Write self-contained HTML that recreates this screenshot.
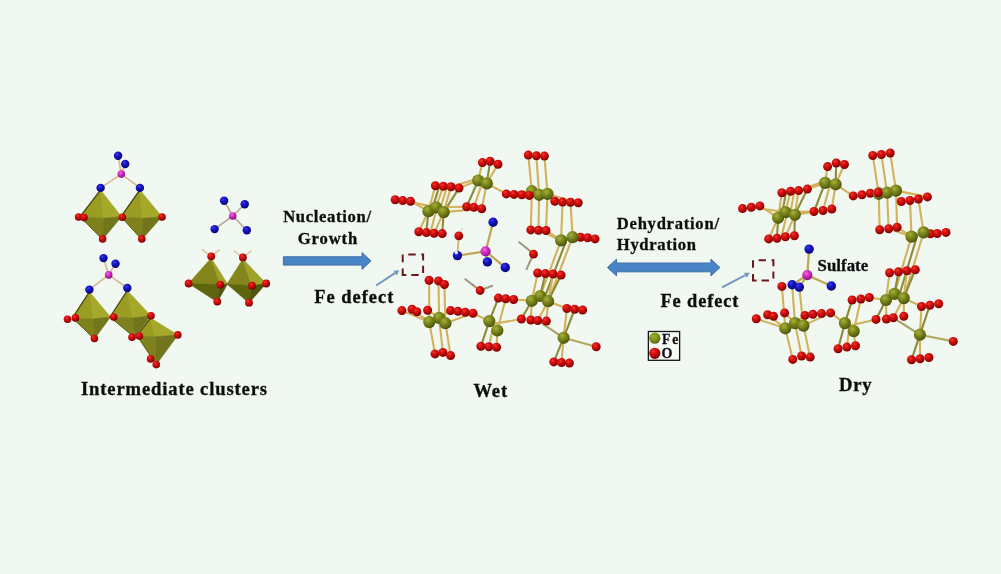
<!DOCTYPE html>
<html><head><meta charset="utf-8"><title>Fe oxyhydroxide sulfate scheme</title>
<style>
html,body{margin:0;padding:0;background:#f1f7f1;}
body{width:1001px;height:574px;overflow:hidden;}
svg{display:block;}
text{font-family:"Liberation Serif",serif;fill:#0e0e0e;stroke:#0e0e0e;stroke-width:0.32px;}
</style></head><body>
<svg width="1001" height="574" viewBox="0 0 1001 574">
<defs>
<radialGradient id="gr" cx="38%" cy="32%" r="70%"><stop offset="0" stop-color="#f5382c"/><stop offset="0.35" stop-color="#d6100e"/><stop offset="0.8" stop-color="#a00404"/><stop offset="1" stop-color="#6e0000"/></radialGradient>
<radialGradient id="gf" cx="38%" cy="32%" r="70%"><stop offset="0" stop-color="#a6b03a"/><stop offset="0.4" stop-color="#7f8a1f"/><stop offset="0.85" stop-color="#58620f"/><stop offset="1" stop-color="#3f490a"/></radialGradient>
<radialGradient id="gl" cx="40%" cy="35%" r="70%"><stop offset="0" stop-color="#9cb02c"/><stop offset="0.5" stop-color="#7e921c"/><stop offset="1" stop-color="#56600e"/></radialGradient>
<radialGradient id="gb" cx="38%" cy="32%" r="70%"><stop offset="0" stop-color="#3c3cec"/><stop offset="0.4" stop-color="#1515c4"/><stop offset="0.85" stop-color="#08088a"/><stop offset="1" stop-color="#02025a"/></radialGradient>
<radialGradient id="gm" cx="38%" cy="32%" r="70%"><stop offset="0" stop-color="#f468e6"/><stop offset="0.45" stop-color="#d02cc0"/><stop offset="0.9" stop-color="#9c1692"/><stop offset="1" stop-color="#740e70"/></radialGradient>
<filter id="soft" x="-2%" y="-2%" width="104%" height="104%"><feGaussianBlur stdDeviation="0.5"/></filter>
<filter id="soft2" x="-2%" y="-2%" width="104%" height="104%"><feGaussianBlur stdDeviation="0.3"/></filter>
</defs>
<rect width="1001" height="574" fill="#f1f7f1"/>
<g filter="url(#soft)">
<line x1="121.3" y1="174.1" x2="118.1" y2="155.7" stroke="#d6b98a" stroke-width="1.6" stroke-linecap="round"/>
<line x1="121.3" y1="174.1" x2="125.2" y2="164.0" stroke="#d6b98a" stroke-width="1.6" stroke-linecap="round"/>
<line x1="121.3" y1="174.1" x2="100.6" y2="187.9" stroke="#d6b98a" stroke-width="1.6" stroke-linecap="round"/>
<line x1="121.3" y1="174.1" x2="139.9" y2="187.9" stroke="#d6b98a" stroke-width="1.6" stroke-linecap="round"/>
<polygon points="100.6,190.0 80.1,216.7 103.6,218.2" fill="#9b9d22" stroke="#9b9d22" stroke-width="0.6" stroke-linejoin="round"/>
<polygon points="100.6,190.0 103.6,218.2 121.5,216.7" fill="#a6a82a" stroke="#a6a82a" stroke-width="0.6" stroke-linejoin="round"/>
<polygon points="80.1,216.7 102.6,239.5 103.6,218.2" fill="#7e811a" stroke="#7e811a" stroke-width="0.6" stroke-linejoin="round"/>
<polygon points="103.6,218.2 102.6,239.5 121.5,216.7" fill="#71751a" stroke="#71751a" stroke-width="0.6" stroke-linejoin="round"/>
<line x1="100.6" y1="190.0" x2="80.1" y2="216.7" stroke="#4a4e0c" stroke-width="1.3" stroke-linecap="round"/>
<line x1="80.1" y1="216.7" x2="102.6" y2="239.5" stroke="#5a5e10" stroke-width="1.0" stroke-linecap="round"/>
<polygon points="139.9,190.0 121.0,216.7 142.9,218.2" fill="#9b9d22" stroke="#9b9d22" stroke-width="0.6" stroke-linejoin="round"/>
<polygon points="139.9,190.0 142.9,218.2 162.0,216.7" fill="#a6a82a" stroke="#a6a82a" stroke-width="0.6" stroke-linejoin="round"/>
<polygon points="121.0,216.7 141.8,239.5 142.9,218.2" fill="#7e811a" stroke="#7e811a" stroke-width="0.6" stroke-linejoin="round"/>
<polygon points="142.9,218.2 141.8,239.5 162.0,216.7" fill="#71751a" stroke="#71751a" stroke-width="0.6" stroke-linejoin="round"/>
<line x1="139.9" y1="190.0" x2="121.0" y2="216.7" stroke="#4a4e0c" stroke-width="1.3" stroke-linecap="round"/>
<line x1="121.0" y1="216.7" x2="141.8" y2="239.5" stroke="#5a5e10" stroke-width="1.0" stroke-linecap="round"/>
<circle cx="78.6" cy="217.0" r="3.8" fill="url(#gr)"/>
<circle cx="84.0" cy="217.6" r="3.8" fill="url(#gr)"/>
<circle cx="122.3" cy="217.2" r="3.8" fill="url(#gr)"/>
<circle cx="162.0" cy="217.0" r="3.8" fill="url(#gr)"/>
<circle cx="102.6" cy="238.9" r="3.8" fill="url(#gr)"/>
<circle cx="141.8" cy="238.9" r="3.8" fill="url(#gr)"/>
<circle cx="118.1" cy="155.7" r="4.2" fill="url(#gb)"/>
<circle cx="125.2" cy="164.0" r="4.2" fill="url(#gb)"/>
<circle cx="100.6" cy="187.9" r="4.2" fill="url(#gb)"/>
<circle cx="139.9" cy="187.9" r="4.2" fill="url(#gb)"/>
<circle cx="121.3" cy="174.1" r="3.8" fill="url(#gm)"/>
<line x1="108.7" y1="274.9" x2="103.5" y2="258.1" stroke="#d6b98a" stroke-width="1.6" stroke-linecap="round"/>
<line x1="108.7" y1="274.9" x2="115.5" y2="263.8" stroke="#d6b98a" stroke-width="1.6" stroke-linecap="round"/>
<line x1="108.7" y1="274.9" x2="89.4" y2="289.6" stroke="#d6b98a" stroke-width="1.6" stroke-linecap="round"/>
<line x1="108.7" y1="274.9" x2="127.3" y2="288.0" stroke="#d6b98a" stroke-width="1.6" stroke-linecap="round"/>
<polygon points="89.4,291.8 72.5,317.9 93.9,318.9" fill="#9b9d22" stroke="#9b9d22" stroke-width="0.6" stroke-linejoin="round"/>
<polygon points="89.4,291.8 93.9,318.9 110.5,317.0" fill="#a6a82a" stroke="#a6a82a" stroke-width="0.6" stroke-linejoin="round"/>
<polygon points="72.5,317.9 94.4,339.0 93.9,318.9" fill="#7e811a" stroke="#7e811a" stroke-width="0.6" stroke-linejoin="round"/>
<polygon points="93.9,318.9 94.4,339.0 110.5,317.0" fill="#71751a" stroke="#71751a" stroke-width="0.6" stroke-linejoin="round"/>
<line x1="89.4" y1="291.8" x2="72.5" y2="317.9" stroke="#4a4e0c" stroke-width="1.3" stroke-linecap="round"/>
<line x1="72.5" y1="317.9" x2="94.4" y2="339.0" stroke="#5a5e10" stroke-width="1.0" stroke-linecap="round"/>
<polygon points="150.6,318.0 137.0,335.6 155.4,336.8" fill="#9b9d22" stroke="#9b9d22" stroke-width="0.6" stroke-linejoin="round"/>
<polygon points="150.6,318.0 155.4,336.8 178.0,334.9" fill="#a6a82a" stroke="#a6a82a" stroke-width="0.6" stroke-linejoin="round"/>
<polygon points="137.0,335.6 156.3,364.5 155.4,336.8" fill="#7e811a" stroke="#7e811a" stroke-width="0.6" stroke-linejoin="round"/>
<polygon points="155.4,336.8 156.3,364.5 178.0,334.9" fill="#71751a" stroke="#71751a" stroke-width="0.6" stroke-linejoin="round"/>
<line x1="150.6" y1="318.0" x2="137.0" y2="335.6" stroke="#4a4e0c" stroke-width="1.3" stroke-linecap="round"/>
<line x1="137.0" y1="335.6" x2="156.3" y2="364.5" stroke="#5a5e10" stroke-width="1.0" stroke-linecap="round"/>
<polygon points="127.3,290.6 110.0,317.0 133.0,317.9" fill="#9b9d22" stroke="#9b9d22" stroke-width="0.6" stroke-linejoin="round"/>
<polygon points="127.3,290.6 133.0,317.9 150.8,315.7" fill="#a6a82a" stroke="#a6a82a" stroke-width="0.6" stroke-linejoin="round"/>
<polygon points="110.0,317.0 134.7,337.5 133.0,317.9" fill="#7e811a" stroke="#7e811a" stroke-width="0.6" stroke-linejoin="round"/>
<polygon points="133.0,317.9 134.7,337.5 150.8,315.7" fill="#71751a" stroke="#71751a" stroke-width="0.6" stroke-linejoin="round"/>
<line x1="127.3" y1="290.6" x2="110.0" y2="317.0" stroke="#4a4e0c" stroke-width="1.3" stroke-linecap="round"/>
<line x1="110.0" y1="317.0" x2="134.7" y2="337.5" stroke="#5a5e10" stroke-width="1.0" stroke-linecap="round"/>
<circle cx="67.5" cy="319.3" r="3.8" fill="url(#gr)"/>
<circle cx="75.4" cy="317.9" r="3.8" fill="url(#gr)"/>
<circle cx="113.7" cy="317.0" r="3.8" fill="url(#gr)"/>
<circle cx="151.0" cy="315.7" r="3.8" fill="url(#gr)"/>
<circle cx="94.4" cy="338.5" r="3.8" fill="url(#gr)"/>
<circle cx="132.0" cy="337.2" r="3.8" fill="url(#gr)"/>
<circle cx="139.3" cy="336.0" r="3.8" fill="url(#gr)"/>
<circle cx="177.8" cy="334.9" r="3.8" fill="url(#gr)"/>
<circle cx="150.6" cy="358.9" r="3.8" fill="url(#gr)"/>
<circle cx="156.3" cy="364.6" r="3.8" fill="url(#gr)"/>
<circle cx="103.5" cy="258.1" r="4.2" fill="url(#gb)"/>
<circle cx="115.5" cy="263.8" r="4.2" fill="url(#gb)"/>
<circle cx="89.4" cy="289.6" r="4.2" fill="url(#gb)"/>
<circle cx="127.3" cy="288.0" r="4.2" fill="url(#gb)"/>
<circle cx="108.7" cy="274.9" r="3.8" fill="url(#gm)"/>
<line x1="232.7" y1="216.0" x2="224.1" y2="200.8" stroke="#b9a98f" stroke-width="1.6" stroke-linecap="round"/>
<line x1="232.7" y1="216.0" x2="244.7" y2="204.2" stroke="#b9a98f" stroke-width="1.6" stroke-linecap="round"/>
<line x1="232.7" y1="216.0" x2="214.6" y2="229.1" stroke="#b9a98f" stroke-width="1.6" stroke-linecap="round"/>
<line x1="232.7" y1="216.0" x2="246.8" y2="230.3" stroke="#b9a98f" stroke-width="1.6" stroke-linecap="round"/>
<line x1="211.2" y1="256.3" x2="202.2" y2="249.5" stroke="#d9c9a0" stroke-width="1.6" stroke-linecap="round"/>
<line x1="211.2" y1="256.3" x2="219.1" y2="250.0" stroke="#d9c9a0" stroke-width="1.6" stroke-linecap="round"/>
<line x1="242.9" y1="257.4" x2="234.3" y2="251.1" stroke="#d9c9a0" stroke-width="1.6" stroke-linecap="round"/>
<line x1="242.9" y1="257.4" x2="250.8" y2="251.1" stroke="#d9c9a0" stroke-width="1.6" stroke-linecap="round"/>
<polygon points="211.2,258.0 188.6,283.5 220.3,284.6" fill="#84861c" stroke="#84861c" stroke-width="0.6" stroke-linejoin="round"/>
<polygon points="211.2,258.0 220.3,284.6 227.5,283.9" fill="#a0a228" stroke="#a0a228" stroke-width="0.6" stroke-linejoin="round"/>
<polygon points="188.6,283.5 217.3,302.0 220.3,284.6" fill="#5f650f" stroke="#5f650f" stroke-width="0.6" stroke-linejoin="round"/>
<polygon points="220.3,284.6 217.3,302.0 227.5,283.9" fill="#4d550c" stroke="#4d550c" stroke-width="0.6" stroke-linejoin="round"/>
<polygon points="242.9,259.0 227.0,284.0 252.0,285.7" fill="#84861c" stroke="#84861c" stroke-width="0.6" stroke-linejoin="round"/>
<polygon points="242.9,259.0 252.0,285.7 266.2,283.5" fill="#a0a228" stroke="#a0a228" stroke-width="0.6" stroke-linejoin="round"/>
<polygon points="227.0,284.0 249.0,303.0 252.0,285.7" fill="#5f650f" stroke="#5f650f" stroke-width="0.6" stroke-linejoin="round"/>
<polygon points="252.0,285.7 249.0,303.0 266.2,283.5" fill="#4d550c" stroke="#4d550c" stroke-width="0.6" stroke-linejoin="round"/>
<circle cx="211.2" cy="256.3" r="3.9" fill="url(#gr)"/>
<circle cx="242.9" cy="257.4" r="3.9" fill="url(#gr)"/>
<circle cx="188.6" cy="283.5" r="3.9" fill="url(#gr)"/>
<circle cx="220.3" cy="284.6" r="3.9" fill="url(#gr)"/>
<circle cx="252.0" cy="285.7" r="3.9" fill="url(#gr)"/>
<circle cx="266.2" cy="283.5" r="3.9" fill="url(#gr)"/>
<circle cx="217.3" cy="301.6" r="3.9" fill="url(#gr)"/>
<circle cx="249.0" cy="302.7" r="3.9" fill="url(#gr)"/>
<circle cx="224.1" cy="200.8" r="4.2" fill="url(#gb)"/>
<circle cx="244.7" cy="204.2" r="4.2" fill="url(#gb)"/>
<circle cx="214.6" cy="229.1" r="4.2" fill="url(#gb)"/>
<circle cx="246.8" cy="230.3" r="4.2" fill="url(#gb)"/>
<circle cx="232.7" cy="216.0" r="3.8" fill="url(#gm)"/>
<line x1="428.4" y1="211.2" x2="410.5" y2="201.2" stroke="#d2b25a" stroke-width="2.1" stroke-linecap="round"/>
<line x1="436.0" y1="207.3" x2="402.8" y2="200.6" stroke="#d2b25a" stroke-width="2.1" stroke-linecap="round"/>
<line x1="428.4" y1="211.2" x2="435.4" y2="185.7" stroke="#d2b25a" stroke-width="2.1" stroke-linecap="round"/>
<line x1="436.0" y1="207.3" x2="443.3" y2="186.2" stroke="#d2b25a" stroke-width="2.1" stroke-linecap="round"/>
<line x1="443.7" y1="212.1" x2="451.0" y2="186.8" stroke="#d2b25a" stroke-width="2.1" stroke-linecap="round"/>
<line x1="443.7" y1="212.1" x2="459.0" y2="188.1" stroke="#8c8a3a" stroke-width="2.1" stroke-linecap="round"/>
<line x1="432.2" y1="209.2" x2="439.4" y2="185.9" stroke="#8c8a3a" stroke-width="2.1" stroke-linecap="round"/>
<line x1="439.9" y1="209.7" x2="447.1" y2="186.5" stroke="#d2b25a" stroke-width="2.1" stroke-linecap="round"/>
<line x1="436.0" y1="211.6" x2="430.2" y2="232.9" stroke="#d2b25a" stroke-width="2.1" stroke-linecap="round"/>
<line x1="428.4" y1="211.2" x2="418.8" y2="231.7" stroke="#d2b25a" stroke-width="2.1" stroke-linecap="round"/>
<line x1="428.4" y1="211.2" x2="426.4" y2="232.6" stroke="#8c8a3a" stroke-width="2.1" stroke-linecap="round"/>
<line x1="443.7" y1="212.1" x2="434.1" y2="233.2" stroke="#d2b25a" stroke-width="2.1" stroke-linecap="round"/>
<line x1="443.7" y1="212.1" x2="442.2" y2="233.6" stroke="#8c8a3a" stroke-width="2.1" stroke-linecap="round"/>
<line x1="443.7" y1="212.1" x2="481.7" y2="208.7" stroke="#d2b25a" stroke-width="2.1" stroke-linecap="round"/>
<line x1="436.0" y1="207.3" x2="466.7" y2="206.7" stroke="#d2b25a" stroke-width="2.1" stroke-linecap="round"/>
<line x1="459.0" y1="188.1" x2="478.2" y2="180.5" stroke="#d2b25a" stroke-width="2.1" stroke-linecap="round"/>
<line x1="451.0" y1="186.8" x2="478.2" y2="178.5" stroke="#d2b25a" stroke-width="2.1" stroke-linecap="round"/>
<line x1="478.2" y1="180.5" x2="482.4" y2="162.6" stroke="#d2b25a" stroke-width="2.1" stroke-linecap="round"/>
<line x1="486.8" y1="183.4" x2="490.1" y2="161.3" stroke="#8c8a3a" stroke-width="2.1" stroke-linecap="round"/>
<line x1="486.8" y1="183.4" x2="498.0" y2="164.2" stroke="#d2b25a" stroke-width="2.1" stroke-linecap="round"/>
<line x1="478.2" y1="180.5" x2="466.7" y2="206.7" stroke="#8c8a3a" stroke-width="2.1" stroke-linecap="round"/>
<line x1="482.5" y1="181.9" x2="473.8" y2="207.3" stroke="#d2b25a" stroke-width="2.1" stroke-linecap="round"/>
<line x1="486.8" y1="183.4" x2="481.7" y2="208.7" stroke="#d2b25a" stroke-width="2.1" stroke-linecap="round"/>
<line x1="486.8" y1="183.4" x2="506.3" y2="193.9" stroke="#d2b25a" stroke-width="2.1" stroke-linecap="round"/>
<line x1="528.3" y1="155.1" x2="531.8" y2="191.2" stroke="#d2b25a" stroke-width="2.1" stroke-linecap="round"/>
<line x1="531.8" y1="191.2" x2="530.8" y2="229.9" stroke="#d2b25a" stroke-width="2.1" stroke-linecap="round"/>
<line x1="536.4" y1="155.7" x2="539.1" y2="194.8" stroke="#d2b25a" stroke-width="2.1" stroke-linecap="round"/>
<line x1="539.1" y1="194.8" x2="538.5" y2="230.3" stroke="#d2b25a" stroke-width="2.1" stroke-linecap="round"/>
<line x1="544.4" y1="156.1" x2="547.5" y2="193.9" stroke="#d2b25a" stroke-width="2.1" stroke-linecap="round"/>
<line x1="547.5" y1="193.9" x2="546.0" y2="230.5" stroke="#d2b25a" stroke-width="2.1" stroke-linecap="round"/>
<line x1="547.5" y1="193.9" x2="578.2" y2="202.7" stroke="#d2b25a" stroke-width="2.1" stroke-linecap="round"/>
<line x1="531.8" y1="191.2" x2="506.3" y2="193.9" stroke="#d2b25a" stroke-width="2.1" stroke-linecap="round"/>
<line x1="562.5" y1="202.1" x2="561.1" y2="240.4" stroke="#d2b25a" stroke-width="2.1" stroke-linecap="round"/>
<line x1="570.5" y1="202.3" x2="572.6" y2="237.2" stroke="#d2b25a" stroke-width="2.1" stroke-linecap="round"/>
<line x1="546.0" y1="230.5" x2="561.1" y2="240.4" stroke="#d2b25a" stroke-width="2.1" stroke-linecap="round"/>
<line x1="538.5" y1="230.3" x2="561.1" y2="240.4" stroke="#d2b25a" stroke-width="2.1" stroke-linecap="round"/>
<line x1="572.6" y1="237.2" x2="595.0" y2="238.9" stroke="#d2b25a" stroke-width="2.1" stroke-linecap="round"/>
<line x1="561.1" y1="240.4" x2="540.2" y2="296.0" stroke="#d2b25a" stroke-width="2.1" stroke-linecap="round"/>
<line x1="566.9" y1="238.8" x2="544.2" y2="298.6" stroke="#8c8a3a" stroke-width="2.1" stroke-linecap="round"/>
<line x1="572.6" y1="237.2" x2="548.1" y2="301.2" stroke="#d2b25a" stroke-width="2.1" stroke-linecap="round"/>
<line x1="531.8" y1="300.8" x2="537.7" y2="273.0" stroke="#d2b25a" stroke-width="2.1" stroke-linecap="round"/>
<line x1="540.2" y1="296.0" x2="545.4" y2="273.6" stroke="#8c8a3a" stroke-width="2.1" stroke-linecap="round"/>
<line x1="548.1" y1="301.2" x2="553.1" y2="274.0" stroke="#d2b25a" stroke-width="2.1" stroke-linecap="round"/>
<line x1="548.1" y1="301.2" x2="561.1" y2="275.1" stroke="#8c8a3a" stroke-width="2.1" stroke-linecap="round"/>
<line x1="531.8" y1="300.8" x2="513.6" y2="299.5" stroke="#d2b25a" stroke-width="2.1" stroke-linecap="round"/>
<line x1="548.1" y1="301.2" x2="566.9" y2="308.5" stroke="#d2b25a" stroke-width="2.1" stroke-linecap="round"/>
<line x1="531.8" y1="300.8" x2="521.4" y2="319.0" stroke="#8c8a3a" stroke-width="2.1" stroke-linecap="round"/>
<line x1="531.8" y1="300.8" x2="530.8" y2="320.0" stroke="#d2b25a" stroke-width="2.1" stroke-linecap="round"/>
<line x1="548.1" y1="301.2" x2="537.7" y2="320.5" stroke="#d2b25a" stroke-width="2.1" stroke-linecap="round"/>
<line x1="548.1" y1="301.2" x2="546.4" y2="321.1" stroke="#d2b25a" stroke-width="2.1" stroke-linecap="round"/>
<line x1="566.9" y1="308.5" x2="563.6" y2="337.8" stroke="#d2b25a" stroke-width="2.1" stroke-linecap="round"/>
<line x1="574.7" y1="309.2" x2="563.6" y2="337.8" stroke="#8c8a3a" stroke-width="2.1" stroke-linecap="round"/>
<line x1="537.7" y1="320.5" x2="563.6" y2="337.8" stroke="#a8a060" stroke-width="2.1" stroke-linecap="round"/>
<line x1="563.6" y1="337.8" x2="596.2" y2="346.8" stroke="#b4a860" stroke-width="2.1" stroke-linecap="round"/>
<line x1="563.6" y1="337.8" x2="553.8" y2="361.9" stroke="#8c8a3a" stroke-width="2.1" stroke-linecap="round"/>
<line x1="563.6" y1="337.8" x2="561.5" y2="362.5" stroke="#d2b25a" stroke-width="2.1" stroke-linecap="round"/>
<line x1="429.3" y1="322.1" x2="429.1" y2="280.3" stroke="#d2b25a" stroke-width="2.1" stroke-linecap="round"/>
<line x1="439.1" y1="317.9" x2="438.5" y2="280.9" stroke="#d2b25a" stroke-width="2.1" stroke-linecap="round"/>
<line x1="445.4" y1="323.2" x2="444.4" y2="284.5" stroke="#d2b25a" stroke-width="2.1" stroke-linecap="round"/>
<line x1="429.3" y1="322.1" x2="435.0" y2="353.9" stroke="#d2b25a" stroke-width="2.1" stroke-linecap="round"/>
<line x1="439.1" y1="317.9" x2="442.9" y2="352.4" stroke="#d2b25a" stroke-width="2.1" stroke-linecap="round"/>
<line x1="445.4" y1="323.2" x2="450.6" y2="355.6" stroke="#d2b25a" stroke-width="2.1" stroke-linecap="round"/>
<line x1="429.3" y1="322.1" x2="401.9" y2="310.6" stroke="#d2b25a" stroke-width="2.1" stroke-linecap="round"/>
<line x1="429.3" y1="322.1" x2="412.0" y2="309.2" stroke="#d2b25a" stroke-width="2.1" stroke-linecap="round"/>
<line x1="439.1" y1="317.9" x2="427.6" y2="310.2" stroke="#d2b25a" stroke-width="2.1" stroke-linecap="round"/>
<line x1="445.4" y1="323.2" x2="473.0" y2="313.3" stroke="#d2b25a" stroke-width="2.1" stroke-linecap="round"/>
<line x1="439.1" y1="317.9" x2="450.6" y2="310.6" stroke="#d2b25a" stroke-width="2.1" stroke-linecap="round"/>
<line x1="473.0" y1="313.3" x2="489.3" y2="321.1" stroke="#d2b25a" stroke-width="2.1" stroke-linecap="round"/>
<line x1="489.3" y1="321.1" x2="498.4" y2="298.1" stroke="#8c8a3a" stroke-width="2.1" stroke-linecap="round"/>
<line x1="497.3" y1="330.5" x2="505.7" y2="298.7" stroke="#d2b25a" stroke-width="2.1" stroke-linecap="round"/>
<line x1="489.3" y1="321.1" x2="480.9" y2="346.2" stroke="#8c8a3a" stroke-width="2.1" stroke-linecap="round"/>
<line x1="493.3" y1="325.8" x2="488.9" y2="346.8" stroke="#d2b25a" stroke-width="2.1" stroke-linecap="round"/>
<line x1="497.3" y1="330.5" x2="496.6" y2="347.2" stroke="#d2b25a" stroke-width="2.1" stroke-linecap="round"/>
<line x1="492.3" y1="324.1" x2="521.4" y2="319.0" stroke="#d2b25a" stroke-width="2.1" stroke-linecap="round"/>
<circle cx="482.4" cy="162.6" r="4.5" fill="url(#gr)"/>
<circle cx="490.1" cy="161.3" r="4.5" fill="url(#gr)"/>
<circle cx="498.0" cy="164.2" r="4.5" fill="url(#gr)"/>
<circle cx="435.4" cy="185.7" r="4.5" fill="url(#gr)"/>
<circle cx="443.3" cy="186.2" r="4.5" fill="url(#gr)"/>
<circle cx="451.0" cy="186.8" r="4.5" fill="url(#gr)"/>
<circle cx="459.0" cy="188.1" r="4.5" fill="url(#gr)"/>
<circle cx="395.2" cy="199.7" r="4.5" fill="url(#gr)"/>
<circle cx="402.8" cy="200.6" r="4.5" fill="url(#gr)"/>
<circle cx="410.5" cy="201.2" r="4.5" fill="url(#gr)"/>
<circle cx="466.7" cy="206.7" r="4.5" fill="url(#gr)"/>
<circle cx="473.8" cy="207.3" r="4.5" fill="url(#gr)"/>
<circle cx="481.7" cy="208.7" r="4.5" fill="url(#gr)"/>
<circle cx="418.8" cy="231.7" r="4.5" fill="url(#gr)"/>
<circle cx="426.4" cy="232.6" r="4.5" fill="url(#gr)"/>
<circle cx="434.1" cy="233.2" r="4.5" fill="url(#gr)"/>
<circle cx="442.2" cy="233.6" r="4.5" fill="url(#gr)"/>
<circle cx="528.3" cy="155.1" r="4.5" fill="url(#gr)"/>
<circle cx="536.4" cy="155.7" r="4.5" fill="url(#gr)"/>
<circle cx="544.4" cy="156.1" r="4.5" fill="url(#gr)"/>
<circle cx="506.3" cy="193.9" r="4.5" fill="url(#gr)"/>
<circle cx="514.0" cy="194.4" r="4.5" fill="url(#gr)"/>
<circle cx="521.8" cy="194.8" r="4.5" fill="url(#gr)"/>
<circle cx="529.7" cy="194.8" r="4.5" fill="url(#gr)"/>
<circle cx="554.8" cy="201.3" r="4.5" fill="url(#gr)"/>
<circle cx="562.5" cy="202.1" r="4.5" fill="url(#gr)"/>
<circle cx="570.5" cy="202.3" r="4.5" fill="url(#gr)"/>
<circle cx="578.2" cy="202.7" r="4.5" fill="url(#gr)"/>
<circle cx="530.8" cy="229.9" r="4.5" fill="url(#gr)"/>
<circle cx="538.5" cy="230.3" r="4.5" fill="url(#gr)"/>
<circle cx="546.0" cy="230.5" r="4.5" fill="url(#gr)"/>
<circle cx="580.5" cy="237.2" r="4.5" fill="url(#gr)"/>
<circle cx="587.6" cy="237.8" r="4.5" fill="url(#gr)"/>
<circle cx="595.0" cy="238.9" r="4.5" fill="url(#gr)"/>
<circle cx="537.7" cy="273.0" r="4.5" fill="url(#gr)"/>
<circle cx="545.4" cy="273.6" r="4.5" fill="url(#gr)"/>
<circle cx="553.1" cy="274.0" r="4.5" fill="url(#gr)"/>
<circle cx="561.1" cy="275.1" r="4.5" fill="url(#gr)"/>
<circle cx="498.4" cy="298.1" r="4.5" fill="url(#gr)"/>
<circle cx="505.7" cy="298.7" r="4.5" fill="url(#gr)"/>
<circle cx="513.6" cy="299.5" r="4.5" fill="url(#gr)"/>
<circle cx="566.9" cy="308.5" r="4.5" fill="url(#gr)"/>
<circle cx="574.7" cy="309.2" r="4.5" fill="url(#gr)"/>
<circle cx="582.6" cy="310.0" r="4.5" fill="url(#gr)"/>
<circle cx="521.4" cy="319.0" r="4.5" fill="url(#gr)"/>
<circle cx="530.8" cy="320.0" r="4.5" fill="url(#gr)"/>
<circle cx="537.7" cy="320.5" r="4.5" fill="url(#gr)"/>
<circle cx="546.4" cy="321.1" r="4.5" fill="url(#gr)"/>
<circle cx="596.2" cy="346.8" r="4.5" fill="url(#gr)"/>
<circle cx="553.8" cy="361.9" r="4.5" fill="url(#gr)"/>
<circle cx="561.5" cy="362.5" r="4.5" fill="url(#gr)"/>
<circle cx="569.4" cy="363.1" r="4.5" fill="url(#gr)"/>
<circle cx="401.9" cy="310.6" r="4.5" fill="url(#gr)"/>
<circle cx="412.0" cy="309.2" r="4.5" fill="url(#gr)"/>
<circle cx="416.8" cy="311.7" r="4.5" fill="url(#gr)"/>
<circle cx="427.6" cy="310.2" r="4.5" fill="url(#gr)"/>
<circle cx="450.6" cy="310.6" r="4.5" fill="url(#gr)"/>
<circle cx="457.9" cy="311.3" r="4.5" fill="url(#gr)"/>
<circle cx="465.3" cy="312.3" r="4.5" fill="url(#gr)"/>
<circle cx="473.0" cy="313.3" r="4.5" fill="url(#gr)"/>
<circle cx="435.0" cy="353.9" r="4.5" fill="url(#gr)"/>
<circle cx="442.9" cy="352.4" r="4.5" fill="url(#gr)"/>
<circle cx="450.6" cy="355.6" r="4.5" fill="url(#gr)"/>
<circle cx="480.9" cy="346.2" r="4.5" fill="url(#gr)"/>
<circle cx="488.9" cy="346.8" r="4.5" fill="url(#gr)"/>
<circle cx="496.6" cy="347.2" r="4.5" fill="url(#gr)"/>
<circle cx="429.1" cy="280.3" r="4.5" fill="url(#gr)"/>
<circle cx="438.5" cy="280.9" r="4.5" fill="url(#gr)"/>
<circle cx="444.4" cy="284.5" r="4.5" fill="url(#gr)"/>
<circle cx="478.2" cy="180.5" r="6.1" fill="url(#gf)"/>
<circle cx="486.8" cy="183.4" r="6.1" fill="url(#gf)"/>
<circle cx="428.4" cy="211.2" r="6.1" fill="url(#gf)"/>
<circle cx="436.0" cy="207.3" r="6.1" fill="url(#gf)"/>
<circle cx="443.7" cy="212.1" r="6.1" fill="url(#gf)"/>
<circle cx="531.8" cy="191.2" r="6.1" fill="url(#gf)"/>
<circle cx="539.1" cy="194.8" r="6.1" fill="url(#gf)"/>
<circle cx="547.5" cy="193.9" r="6.1" fill="url(#gf)"/>
<circle cx="561.1" cy="240.4" r="6.1" fill="url(#gf)"/>
<circle cx="572.6" cy="237.2" r="6.1" fill="url(#gf)"/>
<circle cx="531.8" cy="300.8" r="6.1" fill="url(#gf)"/>
<circle cx="540.2" cy="296.0" r="6.1" fill="url(#gf)"/>
<circle cx="548.1" cy="301.2" r="6.1" fill="url(#gf)"/>
<circle cx="563.6" cy="337.8" r="6.1" fill="url(#gf)"/>
<circle cx="429.3" cy="322.1" r="6.1" fill="url(#gf)"/>
<circle cx="439.1" cy="317.9" r="6.1" fill="url(#gf)"/>
<circle cx="445.4" cy="323.2" r="6.1" fill="url(#gf)"/>
<circle cx="489.3" cy="321.1" r="6.1" fill="url(#gf)"/>
<circle cx="497.3" cy="330.5" r="6.1" fill="url(#gf)"/>
<circle cx="529.2" cy="195.4" r="4.5" fill="url(#gr)"/>
<line x1="485.6" y1="251.4" x2="493.1" y2="222.2" stroke="#bfa956" stroke-width="2.3" stroke-linecap="round"/>
<line x1="485.6" y1="251.4" x2="457.4" y2="255.6" stroke="#bfa956" stroke-width="2.3" stroke-linecap="round"/>
<line x1="485.6" y1="251.4" x2="487.4" y2="261.9" stroke="#bfa956" stroke-width="2.3" stroke-linecap="round"/>
<line x1="485.6" y1="251.4" x2="505.3" y2="267.5" stroke="#bfa956" stroke-width="2.3" stroke-linecap="round"/>
<line x1="458.8" y1="235.8" x2="457.4" y2="255.6" stroke="#cdb46a" stroke-width="1.8" stroke-linecap="round"/>
<line x1="458.8" y1="235.8" x2="462.5" y2="228.0" stroke="#dfe3d6" stroke-width="1.6" stroke-linecap="round"/>
<circle cx="493.1" cy="222.2" r="4.7" fill="url(#gb)"/>
<circle cx="457.4" cy="255.6" r="4.7" fill="url(#gb)"/>
<circle cx="487.4" cy="261.9" r="4.7" fill="url(#gb)"/>
<circle cx="505.3" cy="267.5" r="4.7" fill="url(#gb)"/>
<circle cx="456.3" cy="252.6" r="1.7" fill="#f4f4ff"/>
<circle cx="458.8" cy="235.8" r="4.4" fill="url(#gr)"/>
<circle cx="485.6" cy="251.4" r="5.1" fill="url(#gm)"/>
<line x1="533.5" y1="254.1" x2="526.4" y2="248.1" stroke="#a89a5a" stroke-width="2.0" stroke-linecap="round"/>
<line x1="526.4" y1="248.1" x2="519.2" y2="242.2" stroke="#969b80" stroke-width="2.0" stroke-linecap="round"/>
<line x1="533.5" y1="254.1" x2="530.0" y2="261.6" stroke="#a89a5a" stroke-width="2.0" stroke-linecap="round"/>
<line x1="530.0" y1="261.6" x2="526.6" y2="269.0" stroke="#969b80" stroke-width="2.0" stroke-linecap="round"/>
<circle cx="533.5" cy="254.1" r="4.4" fill="url(#gr)"/>
<line x1="480.1" y1="290.5" x2="472.7" y2="284.9" stroke="#a89a5a" stroke-width="2.0" stroke-linecap="round"/>
<line x1="472.7" y1="284.9" x2="465.3" y2="279.3" stroke="#969b80" stroke-width="2.0" stroke-linecap="round"/>
<line x1="480.1" y1="290.5" x2="486.1" y2="288.1" stroke="#a89a5a" stroke-width="2.0" stroke-linecap="round"/>
<line x1="486.1" y1="288.1" x2="492.2" y2="285.8" stroke="#969b80" stroke-width="2.0" stroke-linecap="round"/>
<circle cx="480.1" cy="290.5" r="4.4" fill="url(#gr)"/>
<line x1="778.1" y1="217.8" x2="759.9" y2="205.9" stroke="#d2b25a" stroke-width="2.1" stroke-linecap="round"/>
<line x1="785.4" y1="212.1" x2="751.3" y2="207.3" stroke="#d2b25a" stroke-width="2.1" stroke-linecap="round"/>
<line x1="778.1" y1="217.8" x2="781.9" y2="192.7" stroke="#d2b25a" stroke-width="2.1" stroke-linecap="round"/>
<line x1="785.4" y1="212.1" x2="790.6" y2="191.2" stroke="#d2b25a" stroke-width="2.1" stroke-linecap="round"/>
<line x1="794.8" y1="214.8" x2="798.6" y2="190.6" stroke="#d2b25a" stroke-width="2.1" stroke-linecap="round"/>
<line x1="794.8" y1="214.8" x2="807.4" y2="189.1" stroke="#8c8a3a" stroke-width="2.1" stroke-linecap="round"/>
<line x1="781.8" y1="214.9" x2="786.2" y2="191.9" stroke="#8c8a3a" stroke-width="2.1" stroke-linecap="round"/>
<line x1="790.1" y1="213.4" x2="794.6" y2="190.9" stroke="#d2b25a" stroke-width="2.1" stroke-linecap="round"/>
<line x1="786.5" y1="216.3" x2="781.2" y2="237.6" stroke="#d2b25a" stroke-width="2.1" stroke-linecap="round"/>
<line x1="778.1" y1="217.8" x2="768.7" y2="238.9" stroke="#d2b25a" stroke-width="2.1" stroke-linecap="round"/>
<line x1="778.1" y1="217.8" x2="777.0" y2="238.3" stroke="#8c8a3a" stroke-width="2.1" stroke-linecap="round"/>
<line x1="794.8" y1="214.8" x2="785.4" y2="236.8" stroke="#d2b25a" stroke-width="2.1" stroke-linecap="round"/>
<line x1="794.8" y1="214.8" x2="794.4" y2="235.8" stroke="#8c8a3a" stroke-width="2.1" stroke-linecap="round"/>
<line x1="794.8" y1="214.8" x2="831.8" y2="209.0" stroke="#d2b25a" stroke-width="2.1" stroke-linecap="round"/>
<line x1="785.4" y1="212.1" x2="814.0" y2="211.5" stroke="#d2b25a" stroke-width="2.1" stroke-linecap="round"/>
<line x1="807.4" y1="189.1" x2="825.1" y2="182.9" stroke="#d2b25a" stroke-width="2.1" stroke-linecap="round"/>
<line x1="798.6" y1="190.6" x2="825.1" y2="180.9" stroke="#d2b25a" stroke-width="2.1" stroke-linecap="round"/>
<line x1="825.1" y1="182.9" x2="827.6" y2="166.6" stroke="#d2b25a" stroke-width="2.1" stroke-linecap="round"/>
<line x1="835.6" y1="184.3" x2="836.2" y2="163.0" stroke="#8c8a3a" stroke-width="2.1" stroke-linecap="round"/>
<line x1="835.6" y1="184.3" x2="844.4" y2="164.5" stroke="#d2b25a" stroke-width="2.1" stroke-linecap="round"/>
<line x1="825.1" y1="182.9" x2="814.0" y2="211.5" stroke="#8c8a3a" stroke-width="2.1" stroke-linecap="round"/>
<line x1="830.4" y1="183.6" x2="823.0" y2="210.5" stroke="#d2b25a" stroke-width="2.1" stroke-linecap="round"/>
<line x1="835.6" y1="184.3" x2="831.8" y2="209.0" stroke="#d2b25a" stroke-width="2.1" stroke-linecap="round"/>
<line x1="835.6" y1="184.3" x2="853.2" y2="195.9" stroke="#d2b25a" stroke-width="2.1" stroke-linecap="round"/>
<line x1="872.8" y1="155.5" x2="878.7" y2="193.8" stroke="#d2b25a" stroke-width="2.1" stroke-linecap="round"/>
<line x1="878.7" y1="193.8" x2="879.7" y2="229.7" stroke="#d2b25a" stroke-width="2.1" stroke-linecap="round"/>
<line x1="881.4" y1="154.5" x2="887.0" y2="192.7" stroke="#d2b25a" stroke-width="2.1" stroke-linecap="round"/>
<line x1="887.0" y1="192.7" x2="888.7" y2="228.7" stroke="#d2b25a" stroke-width="2.1" stroke-linecap="round"/>
<line x1="890.2" y1="153.0" x2="896.0" y2="190.6" stroke="#d2b25a" stroke-width="2.1" stroke-linecap="round"/>
<line x1="896.0" y1="190.6" x2="897.1" y2="227.2" stroke="#d2b25a" stroke-width="2.1" stroke-linecap="round"/>
<line x1="896.0" y1="190.6" x2="927.4" y2="196.9" stroke="#d2b25a" stroke-width="2.1" stroke-linecap="round"/>
<line x1="878.7" y1="193.8" x2="853.2" y2="195.9" stroke="#d2b25a" stroke-width="2.1" stroke-linecap="round"/>
<line x1="910.0" y1="200.5" x2="911.5" y2="236.6" stroke="#d2b25a" stroke-width="2.1" stroke-linecap="round"/>
<line x1="918.4" y1="199.0" x2="923.6" y2="232.4" stroke="#d2b25a" stroke-width="2.1" stroke-linecap="round"/>
<line x1="897.1" y1="227.2" x2="911.5" y2="236.6" stroke="#d2b25a" stroke-width="2.1" stroke-linecap="round"/>
<line x1="888.7" y1="228.7" x2="911.5" y2="236.6" stroke="#d2b25a" stroke-width="2.1" stroke-linecap="round"/>
<line x1="923.6" y1="232.4" x2="946.0" y2="232.4" stroke="#d2b25a" stroke-width="2.1" stroke-linecap="round"/>
<line x1="911.5" y1="236.6" x2="894.4" y2="293.9" stroke="#d2b25a" stroke-width="2.1" stroke-linecap="round"/>
<line x1="917.5" y1="234.5" x2="899.1" y2="296.0" stroke="#8c8a3a" stroke-width="2.1" stroke-linecap="round"/>
<line x1="923.6" y1="232.4" x2="903.8" y2="298.1" stroke="#d2b25a" stroke-width="2.1" stroke-linecap="round"/>
<line x1="886.0" y1="300.0" x2="889.6" y2="272.8" stroke="#d2b25a" stroke-width="2.1" stroke-linecap="round"/>
<line x1="894.4" y1="293.9" x2="898.5" y2="271.8" stroke="#8c8a3a" stroke-width="2.1" stroke-linecap="round"/>
<line x1="903.8" y1="298.1" x2="906.9" y2="270.7" stroke="#d2b25a" stroke-width="2.1" stroke-linecap="round"/>
<line x1="903.8" y1="298.1" x2="915.3" y2="269.7" stroke="#8c8a3a" stroke-width="2.1" stroke-linecap="round"/>
<line x1="886.0" y1="300.0" x2="869.3" y2="297.5" stroke="#d2b25a" stroke-width="2.1" stroke-linecap="round"/>
<line x1="903.8" y1="298.1" x2="921.5" y2="306.5" stroke="#d2b25a" stroke-width="2.1" stroke-linecap="round"/>
<line x1="886.0" y1="300.0" x2="876.0" y2="319.4" stroke="#8c8a3a" stroke-width="2.1" stroke-linecap="round"/>
<line x1="886.0" y1="300.0" x2="886.4" y2="319.0" stroke="#d2b25a" stroke-width="2.1" stroke-linecap="round"/>
<line x1="903.8" y1="298.1" x2="893.3" y2="317.8" stroke="#d2b25a" stroke-width="2.1" stroke-linecap="round"/>
<line x1="903.8" y1="298.1" x2="903.8" y2="316.3" stroke="#d2b25a" stroke-width="2.1" stroke-linecap="round"/>
<line x1="921.5" y1="306.5" x2="919.9" y2="334.7" stroke="#d2b25a" stroke-width="2.1" stroke-linecap="round"/>
<line x1="929.9" y1="305.2" x2="919.9" y2="334.7" stroke="#8c8a3a" stroke-width="2.1" stroke-linecap="round"/>
<line x1="893.3" y1="317.8" x2="919.9" y2="334.7" stroke="#a8a060" stroke-width="2.1" stroke-linecap="round"/>
<line x1="919.9" y1="334.7" x2="953.3" y2="341.4" stroke="#b4a860" stroke-width="2.1" stroke-linecap="round"/>
<line x1="919.9" y1="334.7" x2="911.5" y2="359.8" stroke="#8c8a3a" stroke-width="2.1" stroke-linecap="round"/>
<line x1="919.9" y1="334.7" x2="920.1" y2="358.8" stroke="#d2b25a" stroke-width="2.1" stroke-linecap="round"/>
<line x1="785.3" y1="328.3" x2="792.8" y2="359.4" stroke="#d2b25a" stroke-width="2.1" stroke-linecap="round"/>
<line x1="795.0" y1="323.1" x2="801.6" y2="356.0" stroke="#d2b25a" stroke-width="2.1" stroke-linecap="round"/>
<line x1="803.4" y1="325.6" x2="810.2" y2="357.1" stroke="#d2b25a" stroke-width="2.1" stroke-linecap="round"/>
<line x1="785.3" y1="328.3" x2="756.3" y2="318.8" stroke="#d2b25a" stroke-width="2.1" stroke-linecap="round"/>
<line x1="785.3" y1="328.3" x2="767.6" y2="314.7" stroke="#d2b25a" stroke-width="2.1" stroke-linecap="round"/>
<line x1="795.0" y1="323.1" x2="784.6" y2="312.9" stroke="#d2b25a" stroke-width="2.1" stroke-linecap="round"/>
<line x1="803.4" y1="325.6" x2="830.6" y2="312.9" stroke="#d2b25a" stroke-width="2.1" stroke-linecap="round"/>
<line x1="795.0" y1="323.1" x2="805.0" y2="315.4" stroke="#d2b25a" stroke-width="2.1" stroke-linecap="round"/>
<line x1="830.6" y1="312.9" x2="844.9" y2="323.1" stroke="#d2b25a" stroke-width="2.1" stroke-linecap="round"/>
<line x1="844.9" y1="323.1" x2="852.1" y2="300.0" stroke="#8c8a3a" stroke-width="2.1" stroke-linecap="round"/>
<line x1="853.7" y1="331.1" x2="860.9" y2="299.0" stroke="#d2b25a" stroke-width="2.1" stroke-linecap="round"/>
<line x1="844.9" y1="323.1" x2="838.1" y2="348.7" stroke="#8c8a3a" stroke-width="2.1" stroke-linecap="round"/>
<line x1="849.3" y1="327.1" x2="846.9" y2="347.1" stroke="#d2b25a" stroke-width="2.1" stroke-linecap="round"/>
<line x1="853.7" y1="331.1" x2="855.5" y2="345.8" stroke="#d2b25a" stroke-width="2.1" stroke-linecap="round"/>
<line x1="847.9" y1="326.1" x2="876.0" y2="319.4" stroke="#d2b25a" stroke-width="2.1" stroke-linecap="round"/>
<line x1="781.9" y1="286.4" x2="785.3" y2="328.3" stroke="#d2b25a" stroke-width="2.1" stroke-linecap="round"/>
<line x1="792.1" y1="284.8" x2="795.0" y2="323.1" stroke="#d2b25a" stroke-width="2.1" stroke-linecap="round"/>
<line x1="799.3" y1="287.1" x2="803.4" y2="325.6" stroke="#d2b25a" stroke-width="2.1" stroke-linecap="round"/>
<circle cx="827.6" cy="166.6" r="4.5" fill="url(#gr)"/>
<circle cx="836.2" cy="163.0" r="4.5" fill="url(#gr)"/>
<circle cx="844.4" cy="164.5" r="4.5" fill="url(#gr)"/>
<circle cx="781.9" cy="192.7" r="4.5" fill="url(#gr)"/>
<circle cx="790.6" cy="191.2" r="4.5" fill="url(#gr)"/>
<circle cx="798.6" cy="190.6" r="4.5" fill="url(#gr)"/>
<circle cx="807.4" cy="189.1" r="4.5" fill="url(#gr)"/>
<circle cx="742.5" cy="208.6" r="4.5" fill="url(#gr)"/>
<circle cx="751.3" cy="207.3" r="4.5" fill="url(#gr)"/>
<circle cx="759.9" cy="205.9" r="4.5" fill="url(#gr)"/>
<circle cx="814.0" cy="211.5" r="4.5" fill="url(#gr)"/>
<circle cx="823.0" cy="210.5" r="4.5" fill="url(#gr)"/>
<circle cx="831.8" cy="209.0" r="4.5" fill="url(#gr)"/>
<circle cx="768.7" cy="238.9" r="4.5" fill="url(#gr)"/>
<circle cx="777.0" cy="238.3" r="4.5" fill="url(#gr)"/>
<circle cx="785.4" cy="236.8" r="4.5" fill="url(#gr)"/>
<circle cx="794.4" cy="235.8" r="4.5" fill="url(#gr)"/>
<circle cx="872.8" cy="155.5" r="4.5" fill="url(#gr)"/>
<circle cx="881.4" cy="154.5" r="4.5" fill="url(#gr)"/>
<circle cx="890.2" cy="153.0" r="4.5" fill="url(#gr)"/>
<circle cx="853.2" cy="195.9" r="4.5" fill="url(#gr)"/>
<circle cx="862.0" cy="194.8" r="4.5" fill="url(#gr)"/>
<circle cx="870.3" cy="193.3" r="4.5" fill="url(#gr)"/>
<circle cx="878.7" cy="191.7" r="4.5" fill="url(#gr)"/>
<circle cx="901.3" cy="201.5" r="4.5" fill="url(#gr)"/>
<circle cx="910.0" cy="200.5" r="4.5" fill="url(#gr)"/>
<circle cx="918.4" cy="199.0" r="4.5" fill="url(#gr)"/>
<circle cx="927.4" cy="196.9" r="4.5" fill="url(#gr)"/>
<circle cx="879.7" cy="229.7" r="4.5" fill="url(#gr)"/>
<circle cx="888.7" cy="228.7" r="4.5" fill="url(#gr)"/>
<circle cx="897.1" cy="227.2" r="4.5" fill="url(#gr)"/>
<circle cx="930.5" cy="233.8" r="4.5" fill="url(#gr)"/>
<circle cx="937.2" cy="233.5" r="4.5" fill="url(#gr)"/>
<circle cx="946.0" cy="232.4" r="4.5" fill="url(#gr)"/>
<circle cx="889.6" cy="272.8" r="4.5" fill="url(#gr)"/>
<circle cx="898.5" cy="271.8" r="4.5" fill="url(#gr)"/>
<circle cx="906.9" cy="270.7" r="4.5" fill="url(#gr)"/>
<circle cx="915.3" cy="269.7" r="4.5" fill="url(#gr)"/>
<circle cx="852.1" cy="300.0" r="4.5" fill="url(#gr)"/>
<circle cx="860.9" cy="299.0" r="4.5" fill="url(#gr)"/>
<circle cx="869.3" cy="297.5" r="4.5" fill="url(#gr)"/>
<circle cx="921.5" cy="306.5" r="4.5" fill="url(#gr)"/>
<circle cx="929.9" cy="305.2" r="4.5" fill="url(#gr)"/>
<circle cx="938.7" cy="303.8" r="4.5" fill="url(#gr)"/>
<circle cx="876.0" cy="319.4" r="4.5" fill="url(#gr)"/>
<circle cx="886.4" cy="319.0" r="4.5" fill="url(#gr)"/>
<circle cx="893.3" cy="317.8" r="4.5" fill="url(#gr)"/>
<circle cx="903.8" cy="316.3" r="4.5" fill="url(#gr)"/>
<circle cx="953.3" cy="341.4" r="4.5" fill="url(#gr)"/>
<circle cx="911.5" cy="359.8" r="4.5" fill="url(#gr)"/>
<circle cx="920.1" cy="358.8" r="4.5" fill="url(#gr)"/>
<circle cx="928.9" cy="357.5" r="4.5" fill="url(#gr)"/>
<circle cx="756.3" cy="318.8" r="4.5" fill="url(#gr)"/>
<circle cx="767.6" cy="314.7" r="4.5" fill="url(#gr)"/>
<circle cx="773.5" cy="316.3" r="4.5" fill="url(#gr)"/>
<circle cx="784.6" cy="312.9" r="4.5" fill="url(#gr)"/>
<circle cx="805.0" cy="315.4" r="4.5" fill="url(#gr)"/>
<circle cx="812.9" cy="314.3" r="4.5" fill="url(#gr)"/>
<circle cx="821.5" cy="313.6" r="4.5" fill="url(#gr)"/>
<circle cx="830.6" cy="312.9" r="4.5" fill="url(#gr)"/>
<circle cx="792.8" cy="359.4" r="4.5" fill="url(#gr)"/>
<circle cx="801.6" cy="356.0" r="4.5" fill="url(#gr)"/>
<circle cx="810.2" cy="357.1" r="4.5" fill="url(#gr)"/>
<circle cx="838.1" cy="348.7" r="4.5" fill="url(#gr)"/>
<circle cx="846.9" cy="347.1" r="4.5" fill="url(#gr)"/>
<circle cx="855.5" cy="345.8" r="4.5" fill="url(#gr)"/>
<circle cx="825.1" cy="182.9" r="6.1" fill="url(#gf)"/>
<circle cx="835.6" cy="184.3" r="6.1" fill="url(#gf)"/>
<circle cx="778.1" cy="217.8" r="6.1" fill="url(#gf)"/>
<circle cx="785.4" cy="212.1" r="6.1" fill="url(#gf)"/>
<circle cx="794.8" cy="214.8" r="6.1" fill="url(#gf)"/>
<circle cx="878.7" cy="193.8" r="6.1" fill="url(#gf)"/>
<circle cx="887.0" cy="192.7" r="6.1" fill="url(#gf)"/>
<circle cx="896.0" cy="190.6" r="6.1" fill="url(#gf)"/>
<circle cx="911.5" cy="236.6" r="6.1" fill="url(#gf)"/>
<circle cx="923.6" cy="232.4" r="6.1" fill="url(#gf)"/>
<circle cx="886.0" cy="300.0" r="6.1" fill="url(#gf)"/>
<circle cx="894.4" cy="293.9" r="6.1" fill="url(#gf)"/>
<circle cx="903.8" cy="298.1" r="6.1" fill="url(#gf)"/>
<circle cx="919.9" cy="334.7" r="6.1" fill="url(#gf)"/>
<circle cx="785.3" cy="328.3" r="6.1" fill="url(#gf)"/>
<circle cx="795.0" cy="323.1" r="6.1" fill="url(#gf)"/>
<circle cx="803.4" cy="325.6" r="6.1" fill="url(#gf)"/>
<circle cx="844.9" cy="323.1" r="6.1" fill="url(#gf)"/>
<circle cx="853.7" cy="331.1" r="6.1" fill="url(#gf)"/>
<circle cx="878.2" cy="192.7" r="4.5" fill="url(#gr)"/>
<circle cx="781.9" cy="286.4" r="4.5" fill="url(#gr)"/>
<line x1="807.3" y1="275.1" x2="809.1" y2="249.1" stroke="#bfa956" stroke-width="2.3" stroke-linecap="round"/>
<line x1="807.3" y1="275.1" x2="831.3" y2="286.0" stroke="#bfa956" stroke-width="2.3" stroke-linecap="round"/>
<line x1="807.3" y1="275.1" x2="792.1" y2="284.8" stroke="#bfa956" stroke-width="2.3" stroke-linecap="round"/>
<line x1="807.3" y1="275.1" x2="799.3" y2="287.1" stroke="#bfa956" stroke-width="2.3" stroke-linecap="round"/>
<circle cx="809.1" cy="249.1" r="4.7" fill="url(#gb)"/>
<circle cx="831.3" cy="286.0" r="4.7" fill="url(#gb)"/>
<circle cx="792.1" cy="284.8" r="4.7" fill="url(#gb)"/>
<circle cx="799.3" cy="287.1" r="4.7" fill="url(#gb)"/>
<circle cx="807.3" cy="275.1" r="5.1" fill="url(#gm)"/>
<polygon points="283.4,256.8 362,256.8 362,252.6 371,260.9 362,269.4 362,265.1 283.4,265.1" fill="#4a84c6" stroke="#3f70a6" stroke-width="1" stroke-linejoin="miter"/>
<polygon points="607.4,267.5 616.5,259.2 616.5,263.0 710.9,263.0 710.9,259.2 720.0,267.5 710.9,275.9 710.9,271.8 616.5,271.8 616.5,275.9" fill="#4a84c6" stroke="#3f70a6" stroke-width="1" stroke-linejoin="miter"/>
<path d="M408.3,254.6h7.4 M421.3,254.6H423.1v6.0 M423.1,265.8v7.2 M418.7,274.9h-7.4 M406.3,274.9H402.7v-6.4 M402.7,262.2V254.6" fill="none" stroke="#6c191f" stroke-width="2.0"/>
<path d="M758.6,260.2h7.4 M771.6,260.2H773.4v6.0 M773.4,271.4v7.2 M769.0,280.5h-7.4 M756.6,280.5H753.0v-6.4 M753.0,267.8V260.2" fill="none" stroke="#6c191f" stroke-width="2.0"/>
<line x1="376.1" y1="285.5" x2="395.0" y2="273.1" stroke="#7099bd" stroke-width="2.0"/>
<polygon points="399.4,270.3 396.6,275.5 393.5,270.8" fill="#7099bd"/>
<line x1="722.0" y1="287.4" x2="745.4" y2="275.2" stroke="#7099bd" stroke-width="2.0"/>
<polygon points="750.0,272.8 746.7,277.7 744.1,272.7" fill="#7099bd"/>
<rect x="648.4" y="331.5" width="31.2" height="28.8" fill="#f7faf6" stroke="#151515" stroke-width="1.3"/>
<circle cx="654.8" cy="338.2" r="5.6" fill="url(#gl)"/>
<circle cx="654.8" cy="353.3" r="5.6" fill="url(#gr)"/>
</g>
<g filter="url(#soft2)">
<text x="661.9" y="343.6" font-size="13.6" font-weight="bold" textLength="16.4" lengthAdjust="spacing">Fe</text>
<text x="661.6" y="358.0" font-size="14" font-weight="bold">O</text>
<text x="283.2" y="222.0" font-size="16.6" font-weight="bold" textLength="87.8" lengthAdjust="spacing">Nucleation/</text>
<text x="297.8" y="244.0" font-size="16.6" font-weight="bold" textLength="59.4" lengthAdjust="spacing">Growth</text>
<text x="314.3" y="303.0" font-size="18.4" font-weight="bold" textLength="79.0" lengthAdjust="spacing">Fe defect</text>
<text x="616.8" y="229.0" font-size="16.6" font-weight="bold" textLength="102.2" lengthAdjust="spacing">Dehydration/</text>
<text x="616.8" y="250.0" font-size="16.6" font-weight="bold" textLength="79.2" lengthAdjust="spacing">Hydration</text>
<text x="660.4" y="307.0" font-size="18.4" font-weight="bold" textLength="78.0" lengthAdjust="spacing">Fe defect</text>
<text x="817.6" y="271.0" font-size="16.8" font-weight="bold" textLength="50.6" lengthAdjust="spacing">Sulfate</text>
<text x="81.0" y="395.0" font-size="18.6" font-weight="bold" textLength="186.0" lengthAdjust="spacing">Intermediate clusters</text>
<text x="473.4" y="397.0" font-size="18.6" font-weight="bold" textLength="33.8" lengthAdjust="spacing">Wet</text>
<text x="839.0" y="391.0" font-size="18.6" font-weight="bold" textLength="32.6" lengthAdjust="spacing">Dry</text>
</g>
</svg>
</body></html>
